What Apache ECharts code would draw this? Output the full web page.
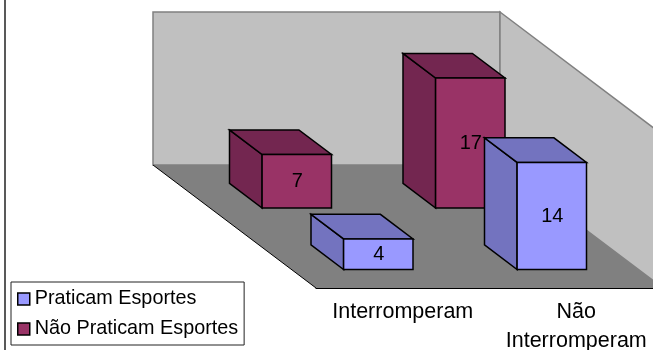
<!DOCTYPE html>
<html>
<head>
<meta charset="utf-8">
<title>Praticam Esportes</title>
<style>
  html, body { margin: 0; padding: 0; background: #fff; }
  #chart { width: 653px; height: 350px; }
</style>
<script src="https://cdn.jsdelivr.net/npm/echarts@6/dist/echarts.min.js"></script>
</head>
<body>
<div id="chart"></div>
<script>
const categories = ['Interromperam', 'Não\nInterromperam'];
const praticam = [4, 14];
const naoPraticam = [7, 17];

// oblique 3D offset of the floor, front edge to back edge
const DEPTH_X = -163;
const DEPTH_Y = -123;
const FONT = '"Liberation Sans", Arial, sans-serif';

function pairs(values) {
  return values.map((v, i) => [i, v]);
}

function poly(points, fill, stroke, width) {
  return {
    type: 'polygon',
    shape: { points: points },
    style: { fill: fill, stroke: stroke, lineWidth: width, lineJoin: 'miter' }
  };
}

// floor and the two walls, taken from the grid rect
function renderRoom(params) {
  const cs = params.coordSys;
  const l = cs.x, r = cs.x + cs.width, t = cs.y, b = cs.y + cs.height;
  const dx = DEPTH_X, dy = DEPTH_Y;
  return {
    type: 'group',
    children: [
      poly([[l + dx, t + dy], [r + dx, t + dy], [r + dx, b + dy], [l + dx, b + dy]], '#c0c0c0', '#808080', 1.5),
      poly([[r + dx, t + dy], [r, t], [r, b], [r + dx, b + dy]], '#c0c0c0', '#808080', 1.5),
      poly([[l + dx, b + dy], [r + dx, b + dy], [r, b], [l, b]], '#808080', 'none', 0),
      { type: 'line', shape: { x1: l + dx, y1: b + dy, x2: l, y2: b }, style: { stroke: '#000', lineWidth: 1 } }
    ]
  };
}

// one box per value, depthStart..depthEnd is the row on the floor (0 front, 1 back)
function boxRenderer(front, shade, depthStart, depthEnd) {
  return function (params, api) {
    const base = api.coord([api.value(0), 0]);
    const band = api.size([1, 0])[0];
    const h = api.size([0, api.value(1)])[1];
    const half = band * 0.2;
    const x0 = base[0] + DEPTH_X * depthStart - half;
    const x1 = x0 + half * 2;
    const y0 = base[1] + DEPTH_Y * depthStart;
    const bx = DEPTH_X * (depthEnd - depthStart);
    const by = DEPTH_Y * (depthEnd - depthStart);
    const line = '#000';
    return {
      type: 'group',
      children: [
        poly([[x0, y0 - h], [x0 + bx, y0 - h + by], [x0 + bx, y0 + by], [x0, y0]], shade, line, 1.5),
        poly([[x0, y0 - h], [x1, y0 - h], [x1 + bx, y0 - h + by], [x0 + bx, y0 - h + by]], shade, line, 1.5),
        poly([[x0, y0 - h], [x1, y0 - h], [x1, y0], [x0, y0]], front, line, 1.5),
        {
          type: 'text',
          x: (x0 + x1) / 2 + 0.5,
          y: y0 - h / 2,
          style: {
            text: String(api.value(1)),
            fill: '#000',
            font: '20px ' + FONT,
            align: 'center',
            verticalAlign: 'middle'
          }
        }
      ]
    };
  };
}

const myChart = echarts.init(document.getElementById('chart'), null, { renderer: 'canvas' });
myChart.setOption({
  animation: false,
  backgroundColor: '#fff',
  textStyle: { fontFamily: FONT },
  grid: { left: 316, top: 135, width: 347, height: 153, outerBoundsMode: 'none' },
  xAxis: {
    type: 'category',
    data: categories,
    axisLine: { lineStyle: { color: '#000', width: 1 } },
    axisTick: { length: 5, lineStyle: { color: '#808080', width: 1 } },
    axisLabel: { interval: 0, color: '#000', fontSize: 21.5, fontFamily: FONT, lineHeight: 29, margin: 10 }
  },
  yAxis: { type: 'value', min: 0, max: 20, show: false },
  legend: {
    data: ['Praticam Esportes', 'Não Praticam Esportes'],
    orient: 'vertical',
    left: 11,
    top: 282,
    padding: [7, 6, 6, 6],
    itemGap: 10,
    itemWidth: 12,
    itemHeight: 12,
    icon: 'rect',
    itemStyle: { borderColor: '#000', borderWidth: 1.5 },
    textStyle: { color: '#000', fontSize: 19.8, fontFamily: FONT },
    backgroundColor: '#fff',
    borderColor: '#222',
    borderWidth: 1
  },
  graphic: [
    { type: 'line', shape: { x1: 5, y1: 0, x2: 5, y2: 350 }, style: { stroke: '#222', lineWidth: 1.5 } }
  ],
  series: [
    {
      name: 'sala',
      type: 'custom',
      silent: true,
      data: [[0, 0]],
      renderItem: renderRoom
    },
    {
      name: 'Não Praticam Esportes',
      type: 'custom',
      itemStyle: { color: '#993366' },
      data: pairs(naoPraticam),
      renderItem: boxRenderer('#993366', '#732650', 0.65, 0.85)
    },
    {
      name: 'Praticam Esportes',
      type: 'custom',
      itemStyle: { color: '#9999ff' },
      data: pairs(praticam),
      renderItem: boxRenderer('#9999ff', '#7373bf', 0.15, 0.35)
    }
  ]
});
</script>
</body>
</html>
